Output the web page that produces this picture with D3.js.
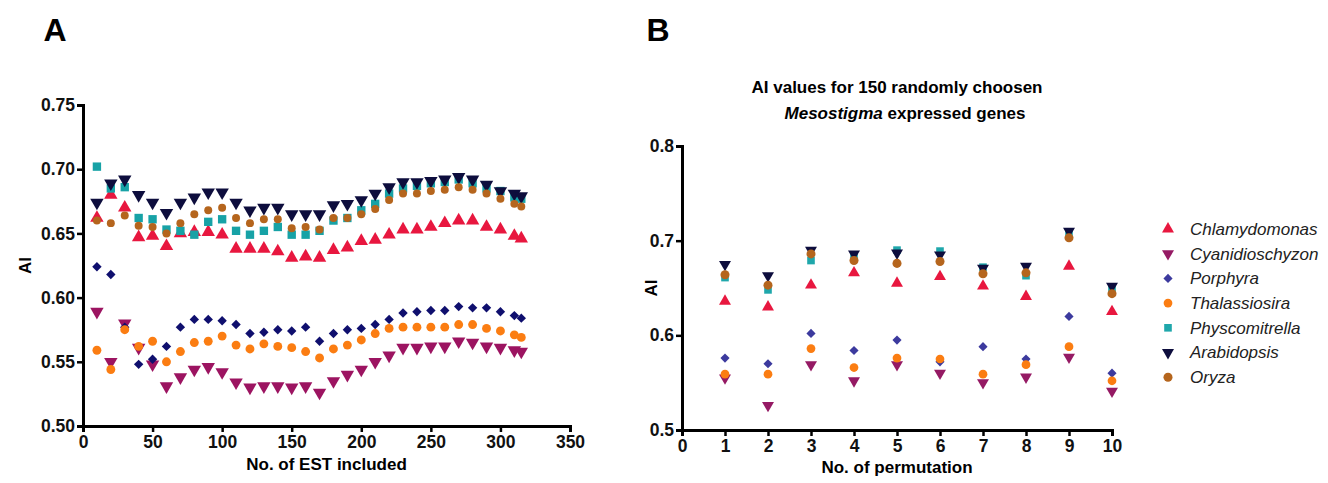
<!DOCTYPE html>
<html>
<head>
<meta charset="utf-8">
<script src="https://cdn.jsdelivr.net/npm/d3@7"></script>
<style>
  body { margin: 0; background: #fff; }
  text { font-family: "Liberation Sans", Arial, sans-serif; }
</style>
</head>
<body>
<script>
'use strict'
// panel A: AI vs number of EST included
var estIncluded = [10, 20, 30, 40, 50, 60, 70, 80, 90, 100, 110, 120, 130, 140, 150, 160,
                   170, 180, 190, 200, 210, 220, 230, 240, 250, 260, 270, 280, 290, 300, 310, 315];
var chlamyA  = [0.662, 0.680, 0.670, 0.647, 0.648, 0.640, 0.650, 0.651, 0.651, 0.649, 0.638, 0.638, 0.638, 0.636, 0.631, 0.632,
                0.631, 0.637, 0.639, 0.644, 0.645, 0.649, 0.653, 0.653, 0.655, 0.658, 0.660, 0.660, 0.655, 0.653, 0.648, 0.646];
var cyanA    = [0.589, 0.550, 0.580, 0.561, 0.548, 0.531, 0.538, 0.544, 0.546, 0.542, 0.534, 0.530, 0.531, 0.531, 0.530, 0.531,
                0.526, 0.535, 0.540, 0.544, 0.550, 0.555, 0.561, 0.561, 0.562, 0.562, 0.566, 0.565, 0.562, 0.561, 0.559, 0.558];
var porphA   = [0.624, 0.618, 0.577, 0.548, 0.552, 0.562, 0.577, 0.583, 0.583, 0.582, 0.579, 0.572, 0.573, 0.575, 0.574, 0.577,
                0.566, 0.572, 0.575, 0.576, 0.579, 0.583, 0.588, 0.589, 0.590, 0.590, 0.593, 0.592, 0.592, 0.589, 0.586, 0.584];
var thalA    = [0.559, 0.544, 0.575, 0.562, 0.566, 0.550, 0.558, 0.565, 0.566, 0.570, 0.563, 0.560, 0.564, 0.562, 0.561, 0.558,
                0.553, 0.560, 0.563, 0.567, 0.572, 0.576, 0.577, 0.577, 0.577, 0.577, 0.579, 0.579, 0.576, 0.574, 0.571, 0.569];
var physA    = [0.702, 0.685, 0.686, 0.662, 0.661, 0.653, 0.652, 0.649, 0.659, 0.661, 0.652, 0.649, 0.652, 0.655, 0.649, 0.649,
                0.652, 0.660, 0.662, 0.668, 0.673, 0.681, 0.685, 0.687, 0.689, 0.690, 0.692, 0.689, 0.685, 0.683, 0.678, 0.677];
var arabA    = [0.674, 0.689, 0.692, 0.680, 0.674, 0.666, 0.674, 0.678, 0.682, 0.682, 0.674, 0.668, 0.670, 0.670, 0.665, 0.665,
                0.665, 0.672, 0.673, 0.676, 0.681, 0.686, 0.690, 0.690, 0.691, 0.692, 0.694, 0.692, 0.688, 0.683, 0.681, 0.679];
var oryzaA   = [0.660, 0.658, 0.664, 0.656, 0.655, 0.650, 0.658, 0.665, 0.668, 0.670, 0.662, 0.658, 0.661, 0.661, 0.654, 0.655,
                0.653, 0.662, 0.662, 0.665, 0.669, 0.676, 0.681, 0.681, 0.683, 0.684, 0.686, 0.684, 0.681, 0.677, 0.673, 0.671];

// panel B: AI for 10 permutations
var permutations = [1, 2, 3, 4, 5, 6, 7, 8, 9, 10];
var chlamyB = [0.636, 0.630, 0.653, 0.666, 0.655, 0.662, 0.652, 0.641, 0.673, 0.625];
var cyanB   = [0.555, 0.526, 0.569, 0.552, 0.569, 0.560, 0.550, 0.556, 0.577, 0.541];
var porphB  = [0.576, 0.570, 0.602, 0.584, 0.595, 0.572, 0.588, 0.575, 0.620, 0.560];
var thalB   = [0.559, 0.559, 0.586, 0.566, 0.576, 0.575, 0.559, 0.569, 0.588, 0.552];
var physB   = [0.661, 0.648, 0.679, 0.683, 0.690, 0.689, 0.672, 0.663, 0.708, 0.649];
var arabB   = [0.675, 0.663, 0.690, 0.686, 0.687, 0.685, 0.671, 0.673, 0.710, 0.652];
var oryzaB  = [0.664, 0.653, 0.686, 0.679, 0.676, 0.678, 0.665, 0.666, 0.703, 0.644];

var species = ["Chlamydomonas", "Cyanidioschyzon", "Porphyra", "Thalassiosira", "Physcomitrella", "Arabidopsis", "Oryza"];
var ticksAX = [0, 50, 100, 150, 200, 250, 300, 350];
var ticksAY = [0.50, 0.55, 0.60, 0.65, 0.70, 0.75];
var ticksBX = [0, 1, 2, 3, 4, 5, 6, 7, 8, 9, 10];
var ticksBY = [0.5, 0.6, 0.7, 0.8];

var seriesA = [chlamyA, cyanA, porphA, thalA, physA, arabA, oryzaA];
var seriesB = [chlamyB, cyanB, porphB, thalB, physB, arabB, oryzaB];

// diamonds are squares turned 45 degrees, down triangles turned 180
var shapes = [d3.symbolTriangle, d3.symbolTriangle, d3.symbolSquare, d3.symbolCircle, d3.symbolSquare, d3.symbolTriangle, d3.symbolCircle];
var turns = [0, 180, 45, 0, 0, 180, 0];
var colorsA = ["#e8173f", "#9c1461", "#0f0f6e", "#fb7d12", "#17a2a6", "#0d0d3d", "#b5651d"];
var colorsB = ["#e8173f", "#951a64", "#3c3a9e", "#fb7d12", "#1fa7ab", "#0d0d3d", "#b5651d"];
var sizesA = [78, 78, 44, 62, 70, 78, 50];
var sizesB = [62, 62, 42, 60, 58, 62, 64];

var svg = d3.select("body")
            .append("svg")
            .attr("width", 1328)
            .attr("height", 483);

function turn(k) {
  return turns[k] ? " rotate(" + turns[k] + ")" : "";
}

function drawPanel(opt) {
  var x = d3.scaleLinear().domain(opt.xDomain).range([opt.left, opt.right]);
  var y = d3.scaleLinear().domain(opt.yDomain).range([opt.bottom, opt.top]);

  var xAxis = svg.append("g")
                 .attr("transform", "translate(0," + opt.bottom + ")")
                 .call(d3.axisBottom(x).tickValues(opt.xTicks).tickFormat(d3.format("d")).tickSizeOuter(0).tickSize(6).tickPadding(4));
  var yAxis = svg.append("g")
                 .attr("transform", "translate(" + opt.left + ",0)")
                 .call(d3.axisLeft(y).tickValues(opt.yTicks).tickFormat(d3.format(opt.yFormat)).tickSizeOuter(0).tickSize(6).tickPadding(2));
  [xAxis, yAxis].forEach(function(a){
    a.selectAll("path").attr("stroke", "#000").attr("stroke-width", 3);
    a.selectAll("line").attr("stroke", "#000").attr("stroke-width", 2.5);
    a.selectAll("text")
     .attr("fill", "#111")
     .style("font-size", "17.5px")
     .style("font-weight", "bold")
     .style("font-family", "'Liberation Sans', Arial, sans-serif");
  });

  svg.append("text")
     .attr("transform", "translate(" + opt.yTitleX + "," + ((opt.top + opt.bottom) / 2) + ") rotate(-90)")
     .attr("text-anchor", "middle")
     .style("font-size", "17px")
     .style("font-weight", "bold")
     .text("AI");
  svg.append("text")
     .attr("x", (opt.left + opt.right) / 2)
     .attr("y", opt.xTitleY)
     .attr("text-anchor", "middle")
     .style("font-size", "17px")
     .style("font-weight", "bold")
     .text(opt.xTitle);

  opt.series.forEach(function(vals, k){
    var sym = d3.symbol().type(shapes[k]).size(opt.sizes[k]);
    svg.append("g")
       .selectAll("path")
       .data(vals)
       .join("path")
       .attr("d", sym)
       .attr("fill", opt.colors[k])
       .attr("transform", function(d, i){
         return "translate(" + x(opt.xs[i]) + "," + y(d) + ")" + turn(k);
       });
  });
}

drawPanel({
  left: 83, right: 570, top: 105, bottom: 426,
  xDomain: [0, 350], yDomain: [0.50, 0.75],
  xTicks: ticksAX, yTicks: ticksAY, yFormat: ".2f",
  xs: estIncluded, series: seriesA, colors: colorsA, sizes: sizesA,
  yTitleX: 31, xTitleY: 470, xTitle: "No. of EST included"
});

drawPanel({
  left: 682, right: 1112, top: 146, bottom: 430,
  xDomain: [0, 10], yDomain: [0.5, 0.8],
  xTicks: ticksBX, yTicks: ticksBY, yFormat: ".1f",
  xs: permutations, series: seriesB, colors: colorsB, sizes: sizesB,
  yTitleX: 657, xTitleY: 473, xTitle: "No. of permutation"
});

// panel letters
svg.append("text").attr("x", 55).attr("y", 41).attr("text-anchor", "middle")
   .style("font-size", "32px").style("font-weight", "bold").text("A");
svg.append("text").attr("x", 658).attr("y", 41).attr("text-anchor", "middle")
   .style("font-size", "32px").style("font-weight", "bold").text("B");

// panel B title
var title = svg.append("text")
               .attr("x", 897)
               .attr("y", 93)
               .attr("text-anchor", "middle")
               .style("font-size", "17px")
               .style("font-weight", "bold");
title.append("tspan").text("AI values for 150 randomly choosen");
var line2 = title.append("tspan").attr("x", 905).attr("dy", 26);
line2.append("tspan").style("font-style", "italic").text("Mesostigma");
line2.append("tspan").text(" expressed genes");

// legend
var legend = svg.append("g")
                .selectAll("g")
                .data(species)
                .join("g")
                .attr("transform", function(d, i){ return "translate(1168," + (229 + i * 24.7) + ")"; });
legend.append("path")
      .attr("d", function(d, i){ return d3.symbol().type(shapes[i]).size(sizesB[i])(); })
      .attr("fill", function(d, i){ return colorsB[i]; })
      .attr("transform", function(d, i){ return turns[i] ? "rotate(" + turns[i] + ")" : null; });
legend.append("text")
      .attr("x", 22)
      .attr("dy", "0.35em")
      .style("font-size", "17px")
      .style("font-style", "italic")
      .attr("fill", "#222")
      .text(function(d){ return d; });
</script>
</body>
</html>
